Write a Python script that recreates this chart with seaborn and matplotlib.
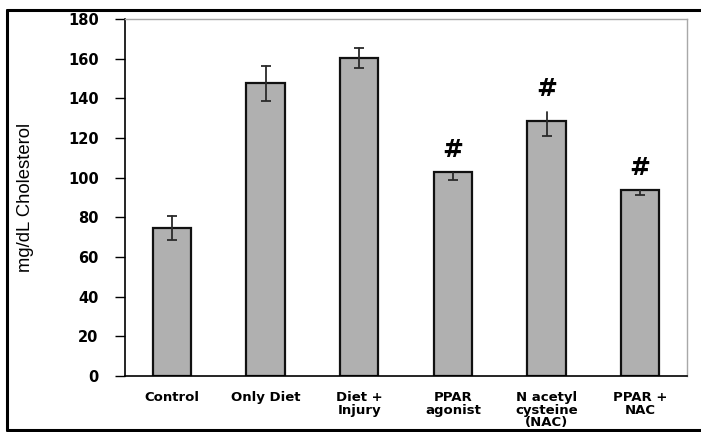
import matplotlib
matplotlib.use("Agg")
import matplotlib.pyplot as plt
import seaborn as sns
import pandas as pd
import numpy as np
from matplotlib.lines import Line2D

categories = ["Control", "Only Diet", "Diet +\nInjury", "PPAR\nagonist", "N acetyl\ncysteine\n(NAC)", "PPAR +\nNAC"]
values = [74.5, 147.6, 160.2, 102.7, 128.7, 93.6]
err_low = [6.0, 8.8, 5.0, 4.0, 7.8, 2.5]
err_high = [6.0, 8.8, 5.0, 0.0, 4.3, 0.0]
upper_cap = [True, True, True, False, False, False]
marks = ["", "", "", "#", "#", "#"]
yticks = [0, 20, 40, 60, 80, 100, 120, 140, 160, 180]

sns.set_style("white")
plt.rcParams['font.family'] = ['Liberation Sans', 'DejaVu Sans']
plt.rcParams['text.color'] = 'black'
plt.rcParams['axes.labelcolor'] = 'black'
plt.rcParams['xtick.color'] = 'black'
plt.rcParams['ytick.color'] = 'black'

fig = plt.figure(figsize=(7.01, 4.32), dpi=100)
ax = fig.add_axes([125/701, 1-376/432, (687-125)/701, (376-19)/432])

df = pd.DataFrame({"cat": categories, "val": values})
sns.barplot(data=df, x="cat", y="val", color="#b0b0b0", edgecolor="#111111",
            linewidth=1.6, width=0.41, saturation=1, ax=ax)
x = np.arange(len(categories))
ecol = "#2a2a2a"
ax.errorbar(x, values, yerr=[err_low, [0]*len(x)], fmt="none", ecolor=ecol,
            elinewidth=1.3, capsize=0, zorder=5)
ax.plot(x, np.array(values) - np.array(err_low), ls="none", marker="_",
        markersize=7, markeredgewidth=1.3, color=ecol, zorder=5)
for xi, v, eh, c in zip(x, values, err_high, upper_cap):
    if eh > 0:
        ax.plot([xi, xi], [v, v + eh], color=ecol, lw=1.3, zorder=5)
        if c:
            ax.plot([xi], [v + eh], ls="none", marker="_", markersize=7,
                    markeredgewidth=1.3, color=ecol, zorder=5)
for xi, v, eh, m in zip(x, values, err_high, marks):
    if m:
        ax.text(xi, v + eh + 11.5, m, ha="center", va="center", fontsize=18,
                fontweight="bold", color="black", family="DejaVu Sans")

ax.set_xlim(-0.5, len(categories) - 0.5)
ax.set_ylim(0, 180)
ax.set_yticks(yticks)
ax.set_yticklabels([str(t) for t in yticks], fontsize=10.5, fontweight="bold",
                   family="DejaVu Sans", color="black")
ax.set_xticks(x)
ax.set_xticklabels(categories, fontsize=9.5, fontweight="bold", linespacing=0.95,
                   family="DejaVu Sans", color="black")
ax.set_xticks(np.arange(-0.5, len(categories)), minor=True)
ax.tick_params(axis="x", which="major", length=0, pad=11)
ax.tick_params(axis="x", which="minor", length=5, width=1, color="black", direction="out")
ax.tick_params(axis="y", which="major", length=7, width=1, color="black", direction="out", pad=12, left=True)
ax.set_xlabel("")
ax.set_ylabel("mg/dL Cholesterol", fontsize=13.3, color="black")
ax.yaxis.set_label_coords(-0.162, 0.5)

for s in ["left", "bottom"]:
    ax.spines[s].set_color("black")
    ax.spines[s].set_linewidth(1.2)
for s in ["top", "right"]:
    ax.spines[s].set_color("#a8a8a8")
    ax.spines[s].set_linewidth(1.0)
    ax.spines[s].set_visible(True)

fig.add_artist(Line2D([7/701, 7/701], [1-10/432, 1-430/432], color="black", lw=2.2, transform=fig.transFigure))
fig.add_artist(Line2D([7/701, 1.0], [1-10/432, 1-10/432], color="black", lw=2.2, transform=fig.transFigure))
fig.add_artist(Line2D([7/701, 1.0], [1-430/432, 1-430/432], color="black", lw=2.2, transform=fig.transFigure))

fig.savefig("out.png", dpi=100)
